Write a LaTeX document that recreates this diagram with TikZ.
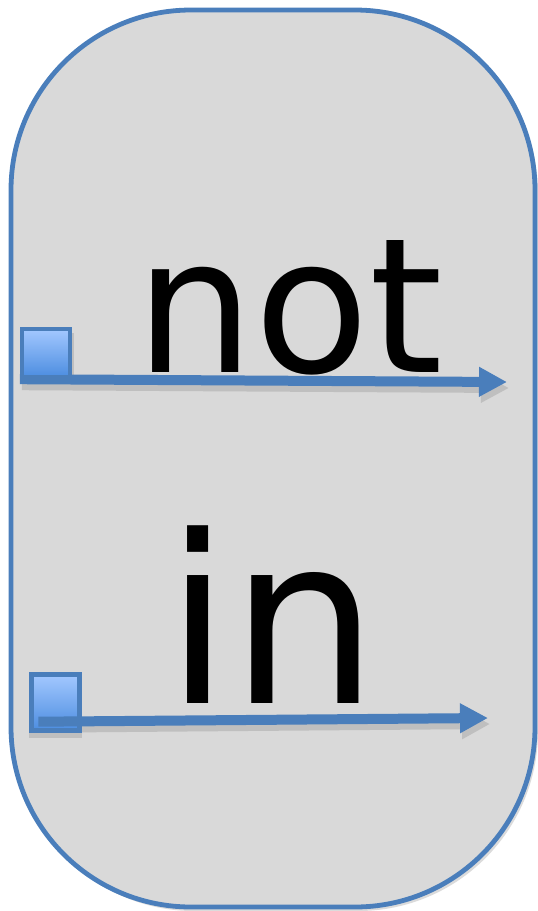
\documentclass[tikz,border=0pt]{standalone}
\usepackage{fontspec}
\setmainfont{DejaVu Sans}
\usetikzlibrary{arrows.meta,backgrounds}
\definecolor{edgeblue}{HTML}{4A7EBB}
\definecolor{panelgray}{HTML}{D9D9D9}
\definecolor{porttop}{HTML}{A3C8FF}
\definecolor{portbot}{HTML}{4C8DE0}
\tikzset{
    port/.style={draw=edgeblue, line width=2.2pt, top color=porttop, bottom color=portbot,
        minimum width=24pt, inner sep=0pt},
    flow/.style={edgeblue, line width=5pt, -{Triangle[length=14pt,width=14pt]}},
    flowshadow/.style={black!25, line width=5pt, -{Triangle[length=14pt,width=14pt]}},
    word/.style={anchor=base},
}
\begin{document}
\begin{tikzpicture}[x=0.5pt,y=-0.5pt]
    \useasboundingbox (0,0) rectangle (537,911);
    \node[word, font=\fontsize{94}{112}\selectfont] (not) at (289,372) {not};
    \node[word, font=\fontsize{117}{140}\selectfont] (in) at (272,703) {in};
    \node[port, minimum height=24pt] (p1) at (46,353) {};
    \node[port, minimum height=28pt] (p2) at (55.5,702.5) {};
    \coordinate (e1) at (507,382);
    \coordinate (e2) at (488,718);
    \begin{scope}[on background layer]
        \fill[black!14, rounded corners=90pt] (14,14) rectangle (538,911);
        \draw[edgeblue, line width=2.4pt, fill=panelgray, rounded corners=90pt] (11,10) rectangle (535,907);
        % shadows
        \fill[black!25] ([shift={(2,6)}]p1.south west) rectangle ([shift={(2,6)}]p1.north east);
        \draw[flowshadow] ([shift={(2,6)}]p1.south west) -- ([shift={(2,6)}]e1);
        \fill[black!25] ([shift={(0,5)}]p2.south west) rectangle ([shift={(0,5)}]p2.north east);
        \draw[flowshadow] ([shift={(11,-5)}]p2.south west) -- ([shift={(2,6)}]e2);
        \draw[flow] (p1.south west) -- (e1);
    \end{scope}
    \draw[flow] ([shift={(9,-11)}]p2.south west) -- (e2);
\end{tikzpicture}
\end{document}
